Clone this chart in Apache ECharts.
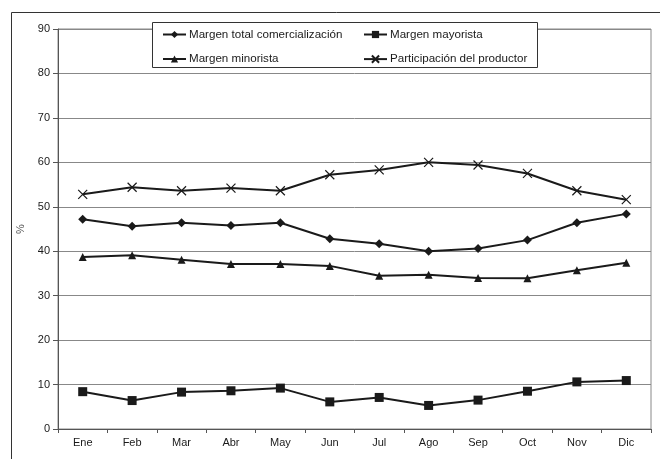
<!DOCTYPE html>
<html><head><meta charset="utf-8">
<script src="https://cdn.jsdelivr.net/npm/echarts@6/dist/echarts.min.js"></script>
<style>html,body{margin:0;padding:0;background:#fff}#c{width:660px;height:459px}</style>
</head><body><div id="c"></div>
<script>
const months = ['Ene','Feb','Mar','Abr','May','Jun','Jul','Ago','Sep','Oct','Nov','Dic'];
const margenTotal = [47.2, 45.6, 46.4, 45.8, 46.4, 42.8, 41.7, 40.0, 40.6, 42.5, 46.4, 48.4];
const margenMayorista = [8.4, 6.4, 8.3, 8.6, 9.2, 6.1, 7.1, 5.3, 6.5, 8.5, 10.6, 10.9];
const margenMinorista = [38.7, 39.1, 38.1, 37.1, 37.1, 36.7, 34.5, 34.7, 34.0, 33.9, 35.7, 37.4];
const participacion = [52.8, 54.4, 53.6, 54.2, 53.6, 57.2, 58.3, 60.0, 59.4, 57.5, 53.6, 51.6];
const seriesNames = ['Margen total comercialización','Margen mayorista','Margen minorista','Participación del productor'];

const font = 'Liberation Sans, Arial, sans-serif';
const ink = '#1a1a1a';
function mk(name, data, symbol, size, extra) {
  return Object.assign({
    name, type: 'line', data, symbol, symbolSize: size,
    lineStyle: { color: ink, width: 2 },
    itemStyle: { color: ink },
    emphasis: { disabled: true },
    animation: false
  }, extra || {});
}
const legendBase = {
  itemWidth: 23, itemHeight: 9, itemGap: 4, padding: 0,
  textStyle: { fontFamily: font, fontSize: 11.6, color: ink, padding: [0, 0, 0, -2] },
  selectedMode: false
};
const chart = echarts.init(document.getElementById('c'), null, { renderer: 'canvas' });
chart.setOption({
  backgroundColor: '#fff',
  animation: false,
  graphic: [
    { type: 'rect', left: 9, top: 10, shape: { width: 660, height: 460 }, style: { fill: 'none', stroke: '#333', lineWidth: 1 }, z: 0 },
    { type: 'rect', left: 152, top: 22, shape: { width: 385, height: 45 }, style: { fill: '#fff', stroke: '#333', lineWidth: 1 }, z: 5 }
  ],
  legend: [
    Object.assign({ data: [seriesNames[0]], left: 162, top: 28.5, z: 10 }, legendBase),
    Object.assign({ data: [seriesNames[1]], left: 363, top: 28.5, z: 10 }, legendBase),
    Object.assign({ data: [seriesNames[2]], left: 162, top: 53, z: 10 }, legendBase),
    Object.assign({ data: [seriesNames[3]], left: 363, top: 53, z: 10 }, legendBase)
  ],
  grid: { left: 58, right: 9, top: 29, bottom: 30, show: true, borderColor: '#888', borderWidth: 1, backgroundColor: 'transparent' },
  xAxis: {
    type: 'category', data: months, boundaryGap: true,
    axisLine: { lineStyle: { color: '#555', width: 1 } },
    axisTick: { show: true, alignWithLabel: false, length: 4, lineStyle: { color: '#555' } },
    axisLabel: { fontFamily: font, fontSize: 11, color: ink, margin: 8 },
    splitLine: { show: false }
  },
  yAxis: {
    type: 'value', min: 0, max: 90, interval: 10,
    name: '%', nameLocation: 'middle', nameRotate: 90, nameGap: 28,
    nameTextStyle: { fontFamily: font, fontSize: 11, color: '#555' },
    axisLine: { show: true, lineStyle: { color: '#555', width: 1 } },
    axisTick: { show: true, length: 5, inside: false, lineStyle: { color: '#555' } },
    axisLabel: { fontFamily: font, fontSize: 11, color: ink, margin: 8 },
    splitLine: { show: true, lineStyle: { color: '#888', width: 1 } }
  },
  series: [
    mk(seriesNames[0], margenTotal, 'diamond', 9),
    mk(seriesNames[1], margenMayorista, 'rect', 9),
    mk(seriesNames[2], margenMinorista, 'triangle', 8),
    mk(seriesNames[3], participacion, 'path://M0,0L10,10M10,0L0,10', 9, {
      itemStyle: { color: 'none', borderColor: ink, borderWidth: 1.2 }
    })
  ]
});
</script>
</body></html>
